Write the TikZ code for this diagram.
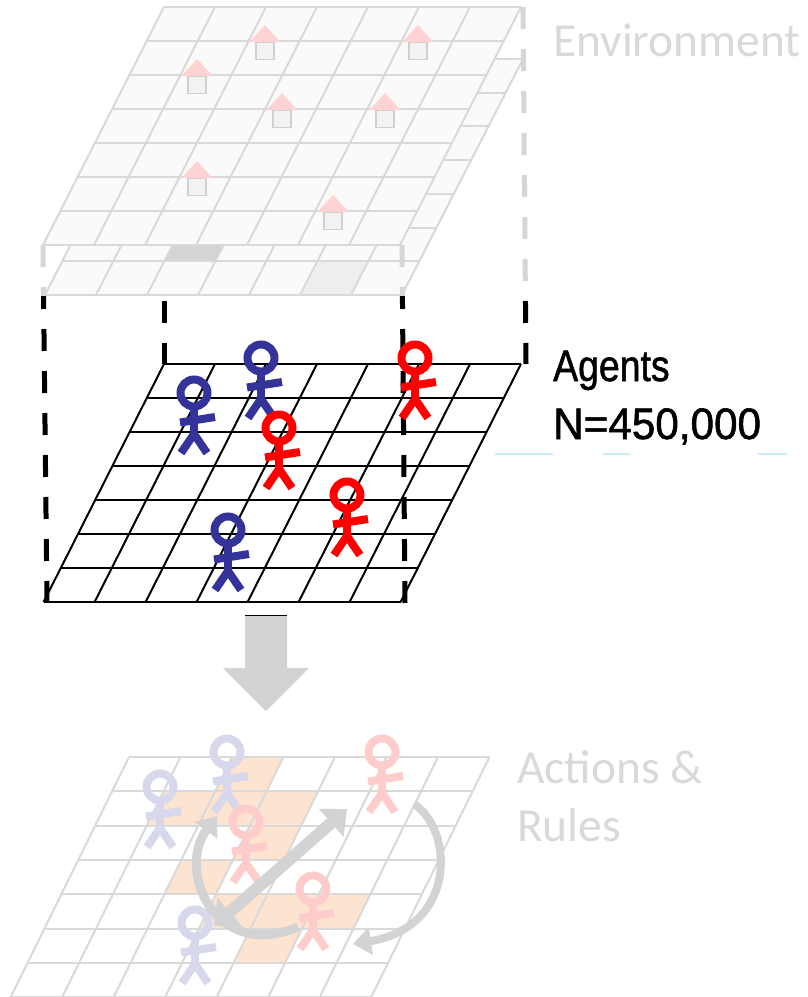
\documentclass[tikz,border=0pt]{standalone}
\usepackage{graphicx}
\usepackage{fontspec}
\setmainfont{Carlito}
\newfontfamily\agentsfont{Liberation Sans}[FakeBold=1.3]
\usetikzlibrary{arrows.meta}

\definecolor{envline}{HTML}{D9D9D9}
\definecolor{envfill}{HTML}{FAFAFA}
\definecolor{envtext}{HTML}{D9D9D9}
\definecolor{roofpink}{HTML}{FFD3D3}
\definecolor{housefill}{HTML}{F2F2F2}
\definecolor{housegray}{HTML}{D0D0D0}
\definecolor{darkcell}{HTML}{D4D4D4}
\definecolor{lightcell}{HTML}{EEEEEE}
\definecolor{agblue}{HTML}{333399}
\definecolor{agred}{HTML}{FF0000}
\definecolor{fadeblue}{HTML}{D8D8EC}
\definecolor{fadered}{HTML}{FFCCCC}
\definecolor{peach}{HTML}{FDE4D0}
\definecolor{flowgray}{HTML}{D3D3D3}
\definecolor{dashgray}{HTML}{D6D6D6}
\definecolor{tealrule}{HTML}{C8EEF2}

% parameters of the current sheared 7x7 grid: top-left corner, cell width,
% row height and leftward shift per row
\newcommand\setgrid[5]{\def\gX{#1}\def\gY{#2}\def\gW{#3}\def\gH{#4}\def\gS{#5}}
\newcommand\gridframe[1]{%
  \fill[#1] (\gX,\gY) -- ++({7*\gW},0) -- ++({-7*\gS},{7*\gH}) -- ++({-7*\gW},0) -- cycle;}
\newcommand\gridlines[1]{%
  \foreach \k in {0,...,7}{
    \draw[#1] ({\gX-\k*\gS},{\gY+\k*\gH}) -- ++({7*\gW},0);
    \draw[#1] ({\gX+\k*\gW},\gY) -- ++({-7*\gS},{7*\gH});
  }}
\newcommand\gridcell[3]{% row, column, fill colour
  \fill[#3] ({\gX+#2*\gW-#1*\gS},{\gY+#1*\gH}) -- ++(\gW,0) -- ++({-\gS},\gH) -- ++({-\gW},0) -- cycle;}
% a small house standing on a grid line
\newcommand\house[2]{%
  \filldraw[fill=housefill, draw=housegray, line width=1.8pt] ({#1-9},#2) rectangle ({#1+9},{#2+17.5});
  \fill[roofpink] ({#1-15.5},#2) -- (#1,{#2-17}) -- ({#1+15.5},#2) -- cycle;}

\tikzset{
  agent/.pic={
    \draw[line width=8pt] (0,0) circle (13.5);
    \draw[line width=8pt] (0,17) -- (0,42);
    \draw[line width=8pt] (-14,29.5) -- (21,24);
    \draw[line width=8pt] (-13,60) -- (0,41) -- (13,60);
  },
  gridpen/.style={line width=2pt},
  dashblack/.style={line width=5pt, dash pattern=on 22pt off 20pt},
  dashlight/.style={dashgray, line width=5pt, dash pattern=on 22pt off 20pt},
  flow/.style={flowgray, line width=#1},
  swaptip/.style={{Triangle[length=21pt,width=36pt]}-{Triangle[length=21pt,width=36pt]}},
  curvetip/.style={-{Triangle[length=18pt,width=27pt]}},
  graylabel/.style={envtext, inner sep=0pt, anchor=base west, font=\fontsize{47.5}{57}\selectfont},
  blacklabel/.style={black, inner sep=0pt, anchor=base west, font=\agentsfont\fontsize{44}{52}\selectfont},
}

\begin{document}
\begin{tikzpicture}[x=1pt, y=-1pt]
\useasboundingbox (0,0) rectangle (807,997);
\fill[white] (0,0) rectangle (807,997);

% ---------- actions & rules sheet ----------
\setgrid{129}{757}{51.5}{34.3}{16.9}
\foreach \r/\c in {0/2,1/1,1/2,1/3,2/3,3/2,4/3,4/4,4/5,5/4}{\gridcell{\r}{\c}{peach}}
\gridlines{envline, gridpen}

\pic[color=fadeblue] (fa1) at (160,787) {agent};
\pic[color=fadeblue] (fa2) at (227,752) {agent};
\pic[color=fadeblue] (fa3) at (195,923) {agent};
\pic[color=fadered] (fr1) at (382,752) {agent};
\pic[color=fadered] (fr2) at (246,822) {agent};
\pic[color=fadered] (fr3) at (313,889) {agent};

\coordinate (swapA) at (214,926);
\coordinate (swapB) at (347,809);
\draw[flow=12pt, swaptip] (swapA) -- (swapB);
\coordinate (loopLs) at (298,927);
\coordinate (loopLe) at (217,816);
\draw[flow=9pt, curvetip] (loopLs) .. controls (215,962) and (176,870) .. (loopLe);
\coordinate (loopRs) at (414,804);
\coordinate (loopRe) at (353,944);
\draw[flow=8pt, curvetip] (loopRs) .. controls (454,830) and (457,927) .. (loopRe);

\node[graylabel] (actions) at (517,783) {Actions \&};
\node[graylabel] (rules) at (517,841) {Rules};

% ---------- block arrow between the sheets ----------
\fill[flowgray] (245,615) -- (287,615) -- (287,668) -- (309,668) -- (266,711)
  -- (223,668) -- (245,668) -- cycle;
\draw[black, line width=1pt] (245,615) -- (287,615);

% ---------- agents sheet ----------
\setgrid{164}{364}{51}{34}{17.2}
\gridlines{black, gridpen}

% projection lines, solid black below the environment sheets
\begin{scope}
  \clip (0,295) rectangle (807,997);
  \draw[dashblack] (43,245) -- (47,603);
  \draw[dashblack] (164,7) -- (164,364);
  \draw[dashblack] (402,245) -- (405,603);
  \draw[dashblack] (523,7) -- (526,364);
\end{scope}

% ---------- environment sheets ----------
\setgrid{166}{59}{51}{33.7}{17.286}
\gridframe{envfill}
\gridcell{5}{2}{darkcell}
\gridcell{6}{5}{lightcell}
\gridlines{envline, gridpen}

\setgrid{164}{7}{51}{34}{17.286}
\gridframe{envfill}
\gridlines{envline, gridpen}
\house{265}{42}
\house{418}{42}
\house{197}{76}
\house{282}{110}
\house{385}{110}
\house{197}{178}
\house{333}{212}

% projection lines seen through the environment sheets
\begin{scope}
  \clip (0,0) rectangle (807,295);
  \draw[dashlight] (43,245) -- (47,603);
  \draw[dashlight] (402,245) -- (405,603);
  \draw[dashlight] (523,7) -- (526,364);
\end{scope}

% ---------- agents ----------
\pic[color=agblue] (a1) at (194,393) {agent};
\pic[color=agblue] (a2) at (261,358) {agent};
\pic[color=agblue] (a3) at (228,530) {agent};
\pic[color=agred] (r1) at (415,358) {agent};
\pic[color=agred] (r2) at (279,428) {agent};
\pic[color=agred] (r3) at (347,495) {agent};

% ---------- labels ----------
\node[graylabel] (envlabel) at (553,56) {Environment};
\node[blacklabel] (agents) at (553,381) {\scalebox{0.85}[1]{Agents}};
\node[blacklabel] (count) at (553,439) {\scalebox{0.96}[1]{N=450,000}};
\draw[tealrule, line width=1.2pt] (495,454) -- (553,454);
\draw[tealrule, line width=1.2pt] (603,454) -- (630,454);
\draw[tealrule, line width=1.2pt] (758,454) -- (787,454);
\end{tikzpicture}
\end{document}
